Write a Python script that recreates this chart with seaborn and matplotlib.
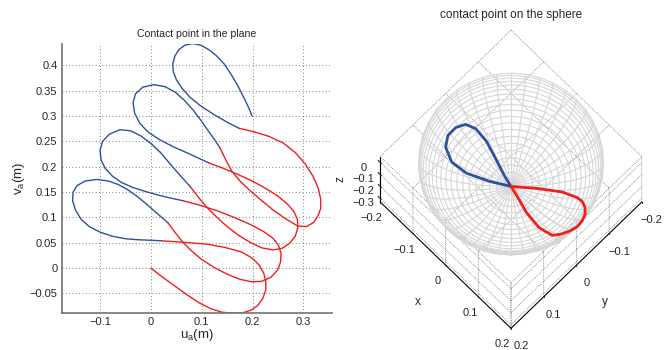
import numpy as np
import matplotlib
matplotlib.use('Agg')
import matplotlib.pyplot as plt
import seaborn as sns

# contact point in the plane, one list pair per lobe
r1_u = [0.000, 0.022, 0.044, 0.070, 0.096, 0.118, 0.140, 0.162, 0.181, 0.197, 0.210, 0.220,
        0.226, 0.226, 0.222, 0.213, 0.199, 0.178, 0.145, 0.112, 0.078, 0.050, 0.021]
r1_v = [0.000, -0.017, -0.033, -0.052, -0.069, -0.080, -0.087, -0.089, -0.088, -0.083, -0.074, -0.060,
        -0.043, -0.027, -0.010, 0.006, 0.020, 0.032, 0.041, 0.047, 0.050, 0.052, 0.054]
a_u = [0.021, 0.000, -0.025, -0.050, -0.076, -0.100, -0.121, -0.137, -0.148, -0.154, -0.153,
       -0.145, -0.129, -0.106, -0.084, -0.064, -0.046, -0.029, -0.013, 0.002, 0.018, 0.034]
a_v = [0.054, 0.055, 0.056, 0.058, 0.063, 0.071, 0.082, 0.096, 0.114, 0.133, 0.150,
       0.163, 0.172, 0.175, 0.172, 0.165, 0.155, 0.143, 0.130, 0.117, 0.103, 0.089]
r2_u = [0.034, 0.048, 0.062, 0.080, 0.100, 0.125, 0.150, 0.175, 0.198, 0.218, 0.236,
        0.249, 0.255, 0.256, 0.251, 0.240, 0.222, 0.196, 0.164, 0.131, 0.097, 0.063]
r2_v = [0.089, 0.070, 0.052, 0.034, 0.017, 0.001, -0.012, -0.022, -0.027, -0.026, -0.018,
        -0.004, 0.012, 0.029, 0.045, 0.059, 0.072, 0.086, 0.100, 0.113, 0.124, 0.133]
b_u = [0.063, 0.040, 0.015, -0.010, -0.035, -0.058, -0.076, -0.090, -0.098, -0.100,
       -0.095, -0.082, -0.061, -0.040, -0.020, 0.000, 0.020, 0.040, 0.060, 0.078]
b_v = [0.133, 0.138, 0.144, 0.151, 0.159, 0.169, 0.182, 0.197, 0.214, 0.233,
       0.250, 0.264, 0.273, 0.271, 0.261, 0.246, 0.227, 0.203, 0.180, 0.160]
r3_u = [0.078, 0.094, 0.111, 0.130, 0.150, 0.172, 0.195, 0.218, 0.240, 0.258, 0.273,
        0.284, 0.289, 0.288, 0.281, 0.268, 0.250, 0.228, 0.201, 0.171, 0.142, 0.113]
r3_v = [0.160, 0.139, 0.119, 0.100, 0.082, 0.065, 0.051, 0.040, 0.036, 0.039, 0.049,
        0.063, 0.080, 0.097, 0.112, 0.127, 0.142, 0.156, 0.171, 0.185, 0.197, 0.208]
c_u = [0.113, 0.096, 0.070, 0.045, 0.018, -0.005, -0.022, -0.032, -0.035, -0.030,
       -0.016, 0.006, 0.028, 0.048, 0.066, 0.083, 0.098, 0.112, 0.125, 0.136]
c_v = [0.208, 0.216, 0.228, 0.239, 0.253, 0.268, 0.286, 0.306, 0.327, 0.344,
       0.357, 0.362, 0.358, 0.347, 0.331, 0.312, 0.292, 0.272, 0.254, 0.237]
r4_u = [0.136, 0.148, 0.160, 0.176, 0.194, 0.217, 0.240, 0.264, 0.289, 0.306, 0.320,
        0.329, 0.334, 0.334, 0.329, 0.319, 0.304, 0.284, 0.260, 0.232, 0.203, 0.173]
r4_v = [0.237, 0.212, 0.190, 0.171, 0.154, 0.134, 0.115, 0.098, 0.083, 0.082, 0.090,
        0.104, 0.118, 0.136, 0.158, 0.181, 0.205, 0.228, 0.247, 0.260, 0.269, 0.276]
d_u = [0.173, 0.150, 0.124, 0.098, 0.077, 0.061, 0.050, 0.044, 0.043, 0.047, 0.055,
       0.067, 0.082, 0.098, 0.114, 0.129, 0.144, 0.158, 0.172, 0.184, 0.193, 0.199]
d_v = [0.276, 0.288, 0.303, 0.320, 0.337, 0.355, 0.372, 0.388, 0.403, 0.418, 0.431,
       0.440, 0.443, 0.440, 0.431, 0.419, 0.403, 0.382, 0.358, 0.334, 0.315, 0.300]

# contact point on the sphere (radius 0.2)
sph_blue_x = [0.000, -0.040, -0.084, -0.119, -0.148, -0.161, -0.162, -0.154, -0.135, -0.103, -0.061, -0.025, 0.000]
sph_blue_y = [0.000, 0.026, 0.052, 0.062, 0.052, 0.032, 0.007, -0.015, -0.027, -0.028, -0.017, -0.006, 0.000]
sph_blue_z = [-0.200, -0.194, -0.174, -0.148, -0.125, -0.114, -0.117, -0.127, -0.145, -0.169, -0.190, -0.198, -0.200]
sph_red_x = [0.000, 0.043, 0.094, 0.132, 0.149, 0.166, 0.182, 0.191, 0.193, 0.182, 0.169, 0.155,
             0.116, 0.067, 0.023, 0.000]
sph_red_y = [0.000, -0.034, -0.063, -0.071, -0.069, -0.060, -0.045, -0.027, -0.010, 0.004, 0.018, 0.029,
             0.030, 0.020, 0.006, 0.000]
sph_red_z = [-0.200, -0.192, -0.165, -0.133, -0.115, -0.093, -0.071, -0.053, -0.053, -0.084, -0.106, -0.123,
             -0.160, -0.187, -0.198, -0.200]

u_ticks = [-0.1, 0, 0.1, 0.2, 0.3]
u_ticklabels = ['\u22120.1', '0', '0.1', '0.2', '0.3']
v_ticks = [-0.05, 0, 0.05, 0.1, 0.15, 0.2, 0.25, 0.3, 0.35, 0.4]
v_ticklabels = ['\u22120.05', '0', '0.05', '0.1', '0.15', '0.2', '0.25', '0.3', '0.35', '0.4']
xy_ticks = [-0.2, -0.1, 0, 0.1, 0.2]
xy_ticklabels = ['\u22120.2', '\u22120.1', '0', '0.1', '0.2']
z_ticks = [-0.3, -0.2, -0.1, 0]
z_ticklabels = ['\u22120.3', '\u22120.2', '\u22120.1', '0']

BLUE = '#2f4f9f'
RED = '#f01e1e'

sns.set_style('white')
plt.rcParams['font.family'] = ['Liberation Sans', 'DejaVu Sans']

fig = plt.figure(figsize=(6.7, 3.5), dpi=100)

# ---- left: plane ----
ax = fig.add_axes([0.092, 0.105, 0.403, 0.769])
lobes = [(r1_u, r1_v, RED), (a_u, a_v, BLUE), (r2_u, r2_v, RED), (b_u, b_v, BLUE),
         (r3_u, r3_v, RED), (c_u, c_v, BLUE), (r4_u, r4_v, RED), (d_u, d_v, BLUE)]
for uu, vv, col in lobes:
    sns.lineplot(x=uu, y=vv, sort=False, estimator=None, color=col, lw=1.0, ax=ax)

ax.set_xlim(-0.1755, 0.3555)
ax.set_ylim(-0.089, 0.442)
ax.set_xticks(u_ticks)
ax.set_xticklabels(u_ticklabels)
ax.set_yticks(v_ticks)
ax.set_yticklabels(v_ticklabels)
ax.tick_params(direction='in', length=3, width=0.6, color='0.3', labelsize=8, pad=3)
ax.grid(True, color='0.35', linestyle=(0, (1, 3)), linewidth=0.6)
for s in ['top', 'right']:
    ax.spines[s].set_visible(False)
for s in ['left', 'bottom']:
    ax.spines[s].set_color('0.45')
    ax.spines[s].set_linewidth(1.2)
ax.set_xlabel('u$_\\mathregular{a}$(m)', fontsize=9.5, labelpad=0)
ax.set_ylabel('v$_\\mathregular{a}$(m)', fontsize=9.5, labelpad=2)
ax.set_title('Contact point in the plane', fontsize=7.6, pad=5, color='0.15')

# ---- right: sphere ----
ax3 = fig.add_axes([0.506, 0.0, 0.50, 0.95], projection='3d', computed_zorder=False)
ax3.set_proj_type('ortho')
ax3.view_init(elev=-75, azim=225)

R = 0.2
th = np.linspace(np.pi / 2, np.pi, 21)
ph = np.linspace(0, 2 * np.pi, 41)
TH, PH = np.meshgrid(th, ph)
ax3.plot_wireframe(R * np.sin(TH) * np.cos(PH), R * np.sin(TH) * np.sin(PH), R * np.cos(TH),
                   rstride=1, cstride=1, color='0.84', linewidth=0.8, zorder=1)
ax3.plot(sph_blue_x, sph_blue_y, sph_blue_z, color=BLUE, lw=2.0, zorder=3)
ax3.plot(sph_red_x, sph_red_y, sph_red_z, color=RED, lw=2.0, zorder=3)

ax3.set_xlim(-0.2, 0.2)
ax3.set_ylim(-0.2, 0.2)
ax3.set_zlim(-0.33, 0.05)
ax3.set_box_aspect((0.4, 0.4, 0.38), zoom=0.92)
ax3.set_xticks(xy_ticks)
ax3.set_xticklabels(xy_ticklabels)
ax3.set_yticks(xy_ticks)
ax3.set_yticklabels(xy_ticklabels)
ax3.set_zticks(z_ticks)
ax3.set_zticklabels(z_ticklabels)
ax3.tick_params(labelsize=8, pad=0)
ax3.yaxis.set_tick_params(pad=1.5)
for axis in (ax3.xaxis, ax3.yaxis, ax3.zaxis):
    axis.set_pane_color((1, 1, 1, 0))
    axis.pane.set_edgecolor((1, 1, 1, 0))
    axis._axinfo['grid'].update(color='0.3', linestyle=':', linewidth=0.5)
    axis.line.set_color('k')
    axis.line.set_linewidth(0.8)
ax3.xaxis.set_ticks_position('lower')
ax3.yaxis.set_ticks_position('lower')
ax3.xaxis.set_label_position('lower')
ax3.yaxis.set_label_position('lower')
ax3.set_xlabel('x', fontsize=8.5, labelpad=6)
ax3.set_ylabel('y', fontsize=8.5, labelpad=6)
ax3.zaxis.set_rotate_label(False)
ax3.set_zlabel('z', fontsize=8.5, labelpad=-2, rotation=90)
fig.text(511 / 670, 1 - 15 / 350, 'contact point on the sphere', ha='center', va='center',
         fontsize=8.5, color='0.15')

fig.savefig('out.png', dpi=100)
